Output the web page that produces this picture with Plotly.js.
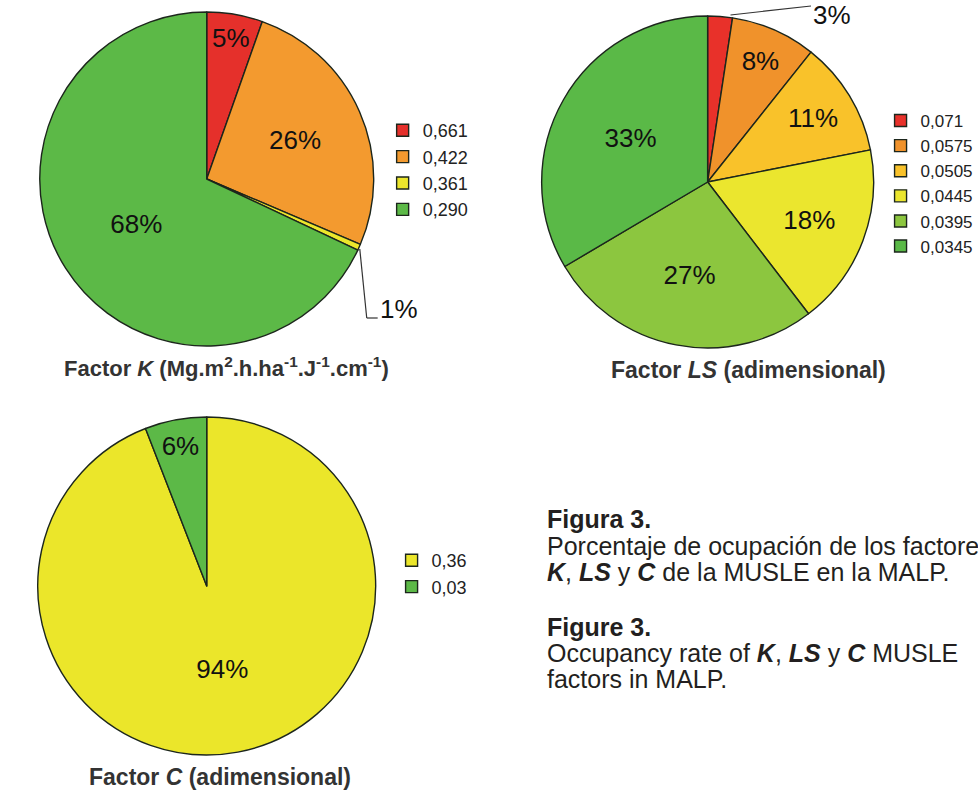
<!DOCTYPE html>
<html>
<head>
<meta charset="utf-8">
<script src="https://cdn.plot.ly/plotly-3.0.1.min.js"></script>
<style>
  html, body { margin: 0; padding: 0; background: #ffffff; }
  #chart { width: 978px; height: 794px; }
</style>
</head>
<body>
<div id="chart"></div>
<script>
// ---- Data ----
const kLabels = ['0,661', '0,422', '0,361', '0,290'];
const kValues = [5.4, 26.0, 0.6, 68.0];
const kText = ['5%', '26%', '1%', '68%'];
const kColors = ['#e5302b', '#f39a2f', '#ece62c', '#5cb947'];

const lsLabels = ['0,071', '0,0575', '0,0505', '0,0445', '0,0395', '0,0345'];
const lsValues = [2.4, 8.3, 11.2, 17.7, 26.9, 33.5];
const lsText = ['3%', '8%', '11%', '18%', '27%', '33%'];
const lsColors = ['#e8312a', '#f0922b', '#f9c22a', '#ebe62e', '#8cc63f', '#5ab947'];

const cLabels = ['0,36', '0,03'];
const cValues = [94.1, 5.9];
const cText = ['94%', '6%'];
const cColors = ['#ebe62a', '#5cb947'];

// ---- Helpers ----
const W = 978, H = 794;
const px = v => v / W;
const py = v => 1 - v / H;
const FONT = 'Liberation Sans, Arial, Helvetica, sans-serif';
const lineStyle = { color: '#1c261c', width: 1.4 };
const pctFont = { family: FONT, size: 26, color: '#111111' };

function pieTrace(labels, values, text, colors, dom, legendId, textpos) {
  return {
    type: 'pie',
    labels: labels,
    values: values,
    text: text,
    textinfo: 'text',
    textposition: textpos,
    insidetextorientation: 'horizontal',
    sort: false,
    direction: 'clockwise',
    rotation: 0,
    marker: { colors: colors, line: lineStyle },
    textfont: pctFont,
    domain: dom,
    legend: legendId,
    hoverinfo: 'label+text'
  };
}

const traces = [
  pieTrace(kLabels, kValues, kText, kColors,
    { x: [px(40), px(376)], y: [py(347), py(11)] }, 'legend',
    ['inside', 'inside', 'none', 'inside']),
  pieTrace(lsLabels, lsValues, lsText, lsColors,
    { x: [px(545), px(879)], y: [py(349), py(15)] }, 'legend2',
    ['none', 'inside', 'inside', 'inside', 'inside', 'inside']),
  pieTrace(cLabels, cValues, cText, cColors,
    { x: [px(38), px(378)], y: [py(756), py(416)] }, 'legend3',
    ['inside', 'inside'])
];

function legendCfg(x, y, size) {
  return {
    x: x, y: y, xanchor: 'left', yanchor: 'top',
    bgcolor: 'rgba(0,0,0,0)',
    font: { family: FONT, size: size, color: '#222222' },
    itemwidth: 30,
    tracegroupgap: 0
  };
}

const titleFont = { family: FONT, size: 23, color: '#333333' };
const captionFont = { family: FONT, size: 25, color: '#231f20' };

function capLine(text, yc) {
  return { text: text, x: px(548), y: py(yc), xref: 'paper', yref: 'paper',
    xanchor: 'left', yanchor: 'middle', align: 'left', showarrow: false, font: captionFont };
}

const annotations = [
  { text: '<b>Factor <i>K</i> (Mg.m<sup>2</sup>.h.ha<sup>-1</sup>.J<sup>-1</sup>.cm<sup>-1</sup>)</b>',
    x: px(228), y: py(367), xref: 'paper', yref: 'paper', xanchor: 'center', yanchor: 'middle',
    showarrow: false, font: { family: FONT, size: 22, color: '#333333' } },
  { text: '<b>Factor <i>LS</i> (adimensional)</b>',
    x: px(753), y: py(370), xref: 'paper', yref: 'paper', xanchor: 'center', yanchor: 'middle',
    showarrow: false, font: titleFont },
  { text: '<b>Factor <i>C</i> (adimensional)</b>',
    x: px(221), y: py(777), xref: 'paper', yref: 'paper', xanchor: 'center', yanchor: 'middle',
    showarrow: false, font: titleFont },
  // outside labels for the small slices
  { text: kText[2], x: px(401), y: py(309), xref: 'paper', yref: 'paper', xanchor: 'center',
    yanchor: 'middle', showarrow: false, font: pctFont },
  { text: lsText[0], x: px(837), y: py(15), xref: 'paper', yref: 'paper', xanchor: 'center',
    yanchor: 'middle', showarrow: false, font: pctFont },
  // caption
  capLine('<b>Figura 3.</b>', 519),
  capLine('Porcentaje de ocupación de los factores', 546),
  capLine('<b><i>K</i></b>, <b><i>LS</i></b> y <b><i>C</i></b> de la MUSLE en la MALP.', 572),
  capLine('<b>Figure 3.</b>', 627),
  capLine('Occupancy rate of <b><i>K</i></b>, <b><i>LS</i></b> y <b><i>C</i></b> MUSLE', 653),
  capLine('factors in MALP.', 679)
];

const leader = { color: '#333333', width: 1.2 };
const shapes = [
  { type: 'line', xref: 'paper', yref: 'paper', x0: px(362), y0: py(249), x1: px(369), y1: py(318), line: leader },
  { type: 'line', xref: 'paper', yref: 'paper', x0: px(369), y0: py(318), x1: px(380), y1: py(318), line: leader },
  { type: 'line', xref: 'paper', yref: 'paper', x0: px(735), y0: py(15), x1: px(816), y1: py(6), line: leader }
];

const layout = {
  width: W, height: H,
  margin: { l: 0, r: 0, t: 0, b: 0 },
  paper_bgcolor: '#ffffff',
  font: { family: FONT },
  showlegend: true,
  legend: legendCfg(px(385), py(112), 18),
  legend2: legendCfg(px(886), py(103), 17),
  legend3: legendCfg(px(394), py(542), 18),
  annotations: annotations,
  shapes: shapes
};

Plotly.newPlot('chart', traces, layout, { displayModeBar: false, staticPlot: true });
</script>
</body>
</html>
